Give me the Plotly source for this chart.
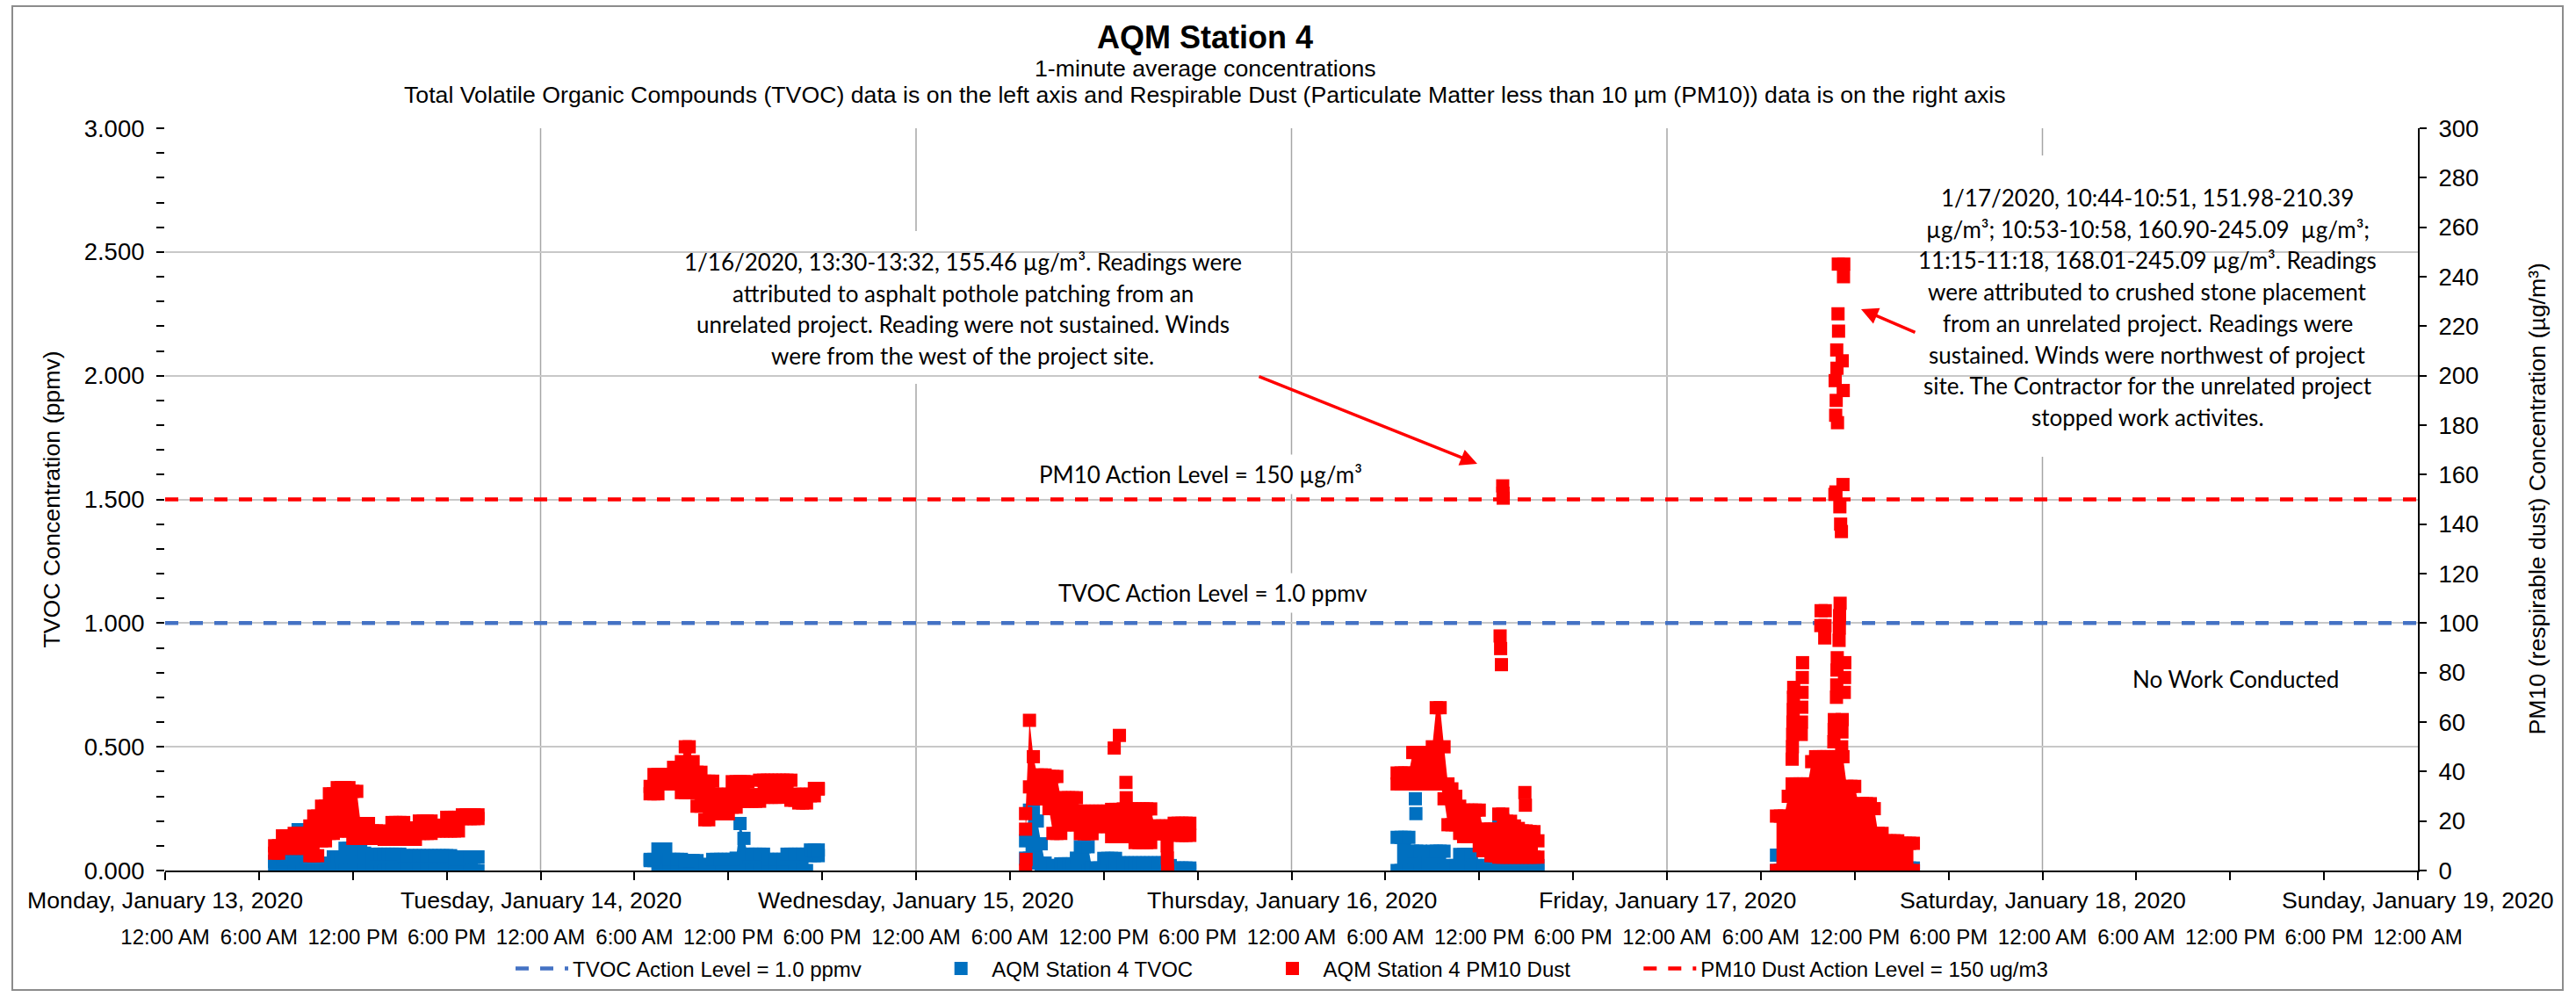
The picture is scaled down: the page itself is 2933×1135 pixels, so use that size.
import pandas as pd
import plotly.graph_objects as go

FONT = "Liberation Sans, Arial, sans-serif"
NOTE_FONT = "Lato, Carlito, Calibri, sans-serif"

# ---------------- axis / label data ----------------
x_start = "2020-01-13 00:00"
x_end = "2020-01-19 00:00"
day_dates = ["2020-01-13", "2020-01-14", "2020-01-15", "2020-01-16",
             "2020-01-17", "2020-01-18", "2020-01-19"]
day_labels = ["Monday, January 13, 2020", "Tuesday, January 14, 2020",
              "Wednesday, January 15, 2020", "Thursday, January 16, 2020",
              "Friday, January 17, 2020", "Saturday, January 18, 2020",
              "Sunday, January 19, 2020"]
time_tick_labels = ["12:00 AM", "6:00 AM", "12:00 PM", "6:00 PM"] * 6 + ["12:00 AM"]

tvoc_action_level = 1.0      # ppmv
pm10_action_level = 150.0    # ug/m3

# Each working day: lowest and highest 1-minute reading in each 15-minute window
# (rows = one hour: :00, :15, :30, :45)

# ---------------- TVOC (ppmv) ----------------
tvoc_mon_start = "2020-01-13 07:00"
tvoc_mon_low = [0.02, 0.02, 0, 0,  0, 0, 0, 0,  0, 0, 0, 0,  0, 0, 0, 0,
                0, 0, 0, 0,  0, 0, 0, 0,  0, 0, 0, 0,  0, 0, 0, 0,
                0, 0, 0, 0,  0, 0, 0, 0,  0, 0, 0, 0,  0, 0, 0, 0,
                0, 0, 0, 0,  0]
tvoc_mon_high = [0.037, 0.037, 0.045, 0.048,
                 0.048, 0.1, 0.165, 0.12,
                 0.059, 0.059, 0.012, 0.012,
                 0.012, 0.012, 0.03, 0.055,
                 0.055, 0.055, 0.09, 0.09,
                 0.09, 0.09, 0.09, 0.07,
                 0.048, 0.048, 0.066, 0.066,
                 0.066, 0.066, 0.066, 0.066,
                 0.066, 0.06, 0.06, 0.06,
                 0.06, 0.06, 0.06, 0.06,
                 0.06, 0.06, 0.06, 0.06,
                 0.06, 0.06, 0.045, 0.045,
                 0.055, 0.055, 0.055, 0.055,
                 0.055]
tvoc_tue_start = "2020-01-14 07:00"
tvoc_tue_low = [0.04, 0.04, 0, 0,  0, 0, 0, 0,  0, 0, 0, 0,  0, 0, 0, 0,
                0, 0, 0, 0,  0, 0, 0, 0,  0, 0, 0, 0,  0, 0, 0, 0,
                0, 0, 0, 0,  0, 0, 0, 0,  0, 0.06, 0.06, 0.06]
tvoc_tue_high = [0.045, 0.045, 0.087, 0.087,
                 0.087, 0.045, 0.045, 0.045,
                 0.045, 0.04, 0.04, 0.04,
                 0.04, 0.024, 0.024, 0.024,
                 0.045, 0.045, 0.045, 0.045,
                 0.045, 0.045, 0.05, 0.19,
                 0.13, 0.066, 0.066, 0.066,
                 0.066, 0.066, 0.045, 0.045,
                 0.045, 0.045, 0.045, 0.066,
                 0.066, 0.066, 0.066, 0.066,
                 0.066, 0.083, 0.083, 0.083]
tvoc_wed_start = "2020-01-15 07:00"
tvoc_wed_low = [0.05, 0.05, 0.05, 0.03,  0, 0, 0, 0,  0, 0, 0, 0,  0, 0, 0, 0,
                0, 0, 0, 0,  0, 0, 0, 0,  0, 0, 0, 0,  0, 0, 0, 0,
                0, 0, 0, 0,  0, 0, 0, 0,  0, 0, 0]
tvoc_wed_high = [0.12, 0.244, 0.244, 0.2,
                 0.108, 0.03, 0.02, 0.02,
                 0.02, 0.027, 0.027, 0.027,
                 0.027, 0.05, 0.096, 0.096,
                 0.096, 0.01, 0.01, 0.01,
                 0.049, 0.049, 0.049, 0.049,
                 0.031, 0.031, 0.031, 0.031,
                 0.031, 0.031, 0.031, 0.031,
                 0.031, 0.031, 0.031, 0.031,
                 0.031, 0.02, 0.01, 0.01,
                 0.01, 0.01, 0.01]
tvoc_thu_start = "2020-01-16 06:45"
tvoc_thu_low = [0,  0, 0, 0, 0,  0, 0, 0, 0,  0, 0, 0, 0,  0, 0, 0, 0,
                0, 0, 0, 0,  0, 0, 0, 0,  0, 0, 0, 0,  0, 0, 0, 0,
                0, 0, 0, 0]
tvoc_thu_high = [0.134,
                 0.134, 0.134, 0.134, 0.078,
                 0.078, 0.078, 0.03, 0.03,
                 0.078, 0.078, 0.078, 0.078,
                 0.02, 0.02, 0.02, 0.065,
                 0.065, 0.065, 0.065, 0.02,
                 0.02, 0.02, 0.02, 0.02,
                 0.02, 0.2, 0.205, 0.18,
                 0.03, 0.03, 0.03, 0.03,
                 0.03, 0.02, 0.02, 0.02]
tvoc_fri_start = "2020-01-17 07:00"
tvoc_fri_low = [0, 0, 0, 0,  0, 0, 0, 0,  0, 0, 0, 0,  0, 0, 0, 0,
                0, 0, 0, 0,  0, 0, 0, 0,  0, 0, 0, 0,  0, 0, 0, 0,
                0, 0, 0, 0]
tvoc_fri_high = [0.062, 0.062, 0.03, 0.03,
                 0.04, 0.04, 0.03, 0.03,
                 0.05, 0.05, 0.05, 0.05,
                 0.06, 0.07, 0.083, 0.083,
                 0.083, 0.07, 0.05, 0.04,
                 0.03, 0.03, 0.03, 0.03,
                 0.03, 0.03, 0.03, 0.03,
                 0.02, 0.02, 0.02, 0.02,
                 0.01, 0.01, 0.01, 0.01]
# isolated TVOC readings
tvoc_extra_times = ["2020-01-16 07:55", "2020-01-16 07:57"]
tvoc_extra_vals = [0.29, 0.23]

# ---------------- PM10 (ug/m3) ----------------
pm10_mon_start = "2020-01-13 07:00"
pm10_mon_low = [7, 7, 9, 9,
                9, 9, 9, 9,
                9, 6, 6, 6,
                12, 12, 15, 15,
                16, 16, 16, 16,
                13, 13, 13, 13,
                13, 13, 13, 13,
                12.6, 12.6, 12.6, 12.6,
                12.6, 12.6, 12.6, 12.6,
                12.6, 15, 15, 15,
                15, 16, 16, 16,
                16, 16, 16, 16,
                21, 21, 21, 21,
                21]
pm10_mon_high = [10, 10, 14, 14,
                 14, 15, 15, 15,
                 15, 18, 22, 22,
                 26, 26, 31, 31,
                 33.5, 33.5, 33.5, 33.5,
                 32, 32, 19, 19,
                 19, 16, 16, 16,
                 14.4, 14.4, 19.4, 19.4,
                 19.4, 19.4, 17.2, 17.2,
                 17.2, 20, 20, 20,
                 20, 18.3, 18.3, 18.3,
                 21.5, 21.5, 21.5, 21.5,
                 22.5, 22.5, 22.5, 22.5,
                 22.5]
pm10_tue_start = "2020-01-14 07:00"
pm10_tue_low = [31, 31, 31, 35,
                35, 35, 35, 35,
                31.5, 31.5, 31.5, 31.5,
                26, 26, 20.5, 20.5,
                25.6, 25.6, 22.9, 22.9,
                22.9, 25.6, 25.6, 28,
                28, 28, 28, 28,
                28, 29.6, 29.6, 29.6,
                29.6, 29.6, 32, 32,
                28.4, 28.4, 27.3, 27.3,
                27.3, 30.2, 30.2, 32.9]
pm10_tue_high = [34, 38.8, 38.8, 38.8,
                 38.8, 38.8, 41.7, 41.7,
                 44, 50, 50, 44,
                 39.7, 39.7, 36.1, 36.1,
                 36.1, 30.8, 30.8, 30.8,
                 30.8, 35.9, 35.9, 35.9,
                 35.9, 35.9, 30.6, 30.6,
                 36.5, 36.5, 36.5, 36.5,
                 36.5, 36.5, 36.5, 36.5,
                 36.5, 30.8, 30.8, 30.8,
                 30.8, 30.8, 33.2, 33.2]
pm10_wed_start = "2020-01-15 07:00"
pm10_wed_low = [16.7, 33.8, 29, 29,
                29, 29, 25, 15,
                15, 15, 18.5, 18.5,
                18.5, 18.5, 14.9, 14.9,
                14.9, 14.9, 17.8, 17.8,
                17.8, 17.8, 13.7, 13.7,
                13.7, 13.7, 13.7, 13.7,
                11.3, 11.3, 11.3, 11.3,
                11.3, 14.9, 14.9, 14.9,
                14.9, 14.9, 14.9, 14.2,
                14.2, 14.2, 14.2]
pm10_wed_high = [23, 60.7, 46, 38.6,
                 38.6, 38.6, 38, 38,
                 38, 29.4, 29.4, 29.4,
                 29.4, 29.4, 24, 24,
                 24, 24, 24, 24,
                 24, 24, 24.7, 24.7,
                 24.7, 24.9, 24.9, 24.9,
                 24.9, 24.9, 24.9, 24.9,
                 24.9, 18, 18, 18,
                 18, 18, 19.1, 19.1,
                 19.1, 19.1, 19.1]
pm10_thu_start = "2020-01-16 06:45"
pm10_thu_low = [35,
                35, 35, 35, 35,
                35, 35, 35, 35,
                35, 35, 35, 29,
                18.5, 18.5, 18.5, 15,
                13.7, 13.7, 13.7, 13.7,
                10, 8, 8, 6,
                6, 5.4, 5.4, 5.4,
                5.4, 5.4, 5.4, 5.4,
                5.4, 5.4, 5.4, 5.4]
pm10_thu_high = [39.4,
                 39.4, 39.4, 39.4, 47.7,
                 47.7, 47.7, 47.7, 45,
                 50, 65.8, 65.8, 50,
                 35, 33, 30, 26,
                 24.4, 24.4, 24.4, 24.4,
                 24.4, 16.7, 16.7, 16.7,
                 16.7, 22.8, 22.8, 19.9,
                 19.9, 18, 17, 16,
                 16, 15.7, 15.7, 12]
pm10_fri_start = "2020-01-17 07:00"
pm10_fri_low = [0, 0, 0, 0,  0, 0, 0, 0,  0, 0, 0, 0,  0, 0, 0, 0,
                0, 0, 0, 0,  0, 0, 0, 0,  0, 0, 0, 0,  0, 0, 0, 0,
                0, 0, 0, 0]
pm10_fri_high = [22, 22, 22, 30,
                 35, 35, 35, 35,
                 35, 44, 46, 46,
                 46, 46, 46, 46,
                 46, 46, 34, 34,
                 34, 27, 27, 27,
                 27, 25, 15, 15,
                 12, 12, 12, 12,
                 11, 11, 11, 11]
# isolated PM10 readings (spikes above the main band)
pm10_extra_times = [
    "2020-01-15 07:00", "2020-01-15 07:02", "2020-01-15 12:40", "2020-01-15 13:00",
    "2020-01-15 13:25", "2020-01-15 13:26", "2020-01-15 16:03", "2020-01-15 16:04",
    "2020-01-15 16:05",
    "2020-01-16 13:20", "2020-01-16 13:22", "2020-01-16 13:25", "2020-01-16 13:30",
    "2020-01-16 13:31", "2020-01-16 13:32", "2020-01-16 14:55", "2020-01-16 14:57",
    # Friday spike columns
    "2020-01-17 08:00", "2020-01-17 08:01", "2020-01-17 08:02", "2020-01-17 08:03",
    "2020-01-17 08:04", "2020-01-17 08:05", "2020-01-17 08:06",
    "2020-01-17 08:35", "2020-01-17 08:36", "2020-01-17 08:37", "2020-01-17 08:38",
    "2020-01-17 08:39", "2020-01-17 08:40",
    "2020-01-17 09:50", "2020-01-17 09:51",
    "2020-01-17 10:05", "2020-01-17 10:06", "2020-01-17 10:07",
    "2020-01-17 10:40", "2020-01-17 10:41", "2020-01-17 10:42",
    "2020-01-17 10:50", "2020-01-17 10:51", "2020-01-17 10:52", "2020-01-17 10:53",
    "2020-01-17 11:00", "2020-01-17 11:01", "2020-01-17 11:02", "2020-01-17 11:04",
    "2020-01-17 11:10", "2020-01-17 11:11", "2020-01-17 11:12",
    "2020-01-17 11:20", "2020-01-17 11:21", "2020-01-17 11:22",
    # Friday 10:44-11:18 excursion
    "2020-01-17 10:44", "2020-01-17 10:45", "2020-01-17 10:47", "2020-01-17 10:48",
    "2020-01-17 10:49", "2020-01-17 10:51", "2020-01-17 10:52", "2020-01-17 10:54",
    "2020-01-17 10:56", "2020-01-17 10:57", "2020-01-17 10:58", "2020-01-17 11:03",
    "2020-01-17 11:06", "2020-01-17 11:09", "2020-01-17 11:12", "2020-01-17 11:15",
    "2020-01-17 11:16", "2020-01-17 11:17", "2020-01-17 11:18"]
pm10_extra_vals = [
    0, 4.5, 49.5, 54.6,
    35.6, 29.4, 10, 5,
    0,
    94.8, 89.7, 83.2, 155.46,
    152.5, 150.5, 31.5, 26.4,
    45, 50, 55, 60,
    65, 70, 74,
    55, 60, 66, 72,
    78, 84,
    99, 105,
    94, 99, 105,
    52, 57, 61,
    70, 75, 81, 86,
    93, 98, 103, 108,
    50, 56, 61,
    72, 78, 84,
    152, 198, 184, 153,
    190, 210.39, 203, 181,
    225, 245.09, 218, 147,
    140, 137, 206, 156,
    194, 240, 245.09]

# ---------------- annotation texts ----------------
note1_lines = ["1/16/2020, 13:30-13:32, 155.46 µg/m³. Readings were",
               "attributed to asphalt pothole patching from an",
               "unrelated project. Reading were not sustained. Winds",
               "were from the west of the project site."]
note2_lines = ["1/17/2020, 10:44-10:51, 151.98-210.39",
               "µg/m³; 10:53-10:58, 160.90-245.09  µg/m³;",
               "11:15-11:18, 168.01-245.09 µg/m³. Readings",
               "were attributed to crushed stone placement",
               "from an unrelated project. Readings were",
               "sustained. Winds were northwest of project",
               "site. The Contractor for the unrelated project",
               "stopped work activites."]
pm10_label = "PM10 Action Level = 150 µg/m³"
tvoc_label = "TVOC Action Level = 1.0 ppmv"
nowork_label = "No Work Conducted"

# ---------------- assemble series ----------------
def build(days, extra_t, extra_v):
    """Return (band polygon x, y) and (marker x, y)."""
    bx, by, mx, my = [], [], [], []
    for start, low, high in days:
        assert len(low) == len(high)
        t = list(pd.date_range(start=start, periods=len(low), freq="15min"))
        bx += t + t[::-1] + [None]
        by += list(high) + list(low)[::-1] + [None]
        mx += t + t
        my += list(low) + list(high)
    assert len(extra_t) == len(extra_v)
    mx += list(pd.to_datetime(extra_t))
    my += list(extra_v)
    return bx, by, mx, my

tv_bx, tv_by, tv_mx, tv_my = build(
    [(tvoc_mon_start, tvoc_mon_low, tvoc_mon_high),
     (tvoc_tue_start, tvoc_tue_low, tvoc_tue_high),
     (tvoc_wed_start, tvoc_wed_low, tvoc_wed_high),
     (tvoc_thu_start, tvoc_thu_low, tvoc_thu_high),
     (tvoc_fri_start, tvoc_fri_low, tvoc_fri_high)],
    tvoc_extra_times, tvoc_extra_vals)
pm_bx, pm_by, pm_mx, pm_my = build(
    [(pm10_mon_start, pm10_mon_low, pm10_mon_high),
     (pm10_tue_start, pm10_tue_low, pm10_tue_high),
     (pm10_wed_start, pm10_wed_low, pm10_wed_high),
     (pm10_thu_start, pm10_thu_low, pm10_thu_high),
     (pm10_fri_start, pm10_fri_low, pm10_fri_high)],
    pm10_extra_times, pm10_extra_vals)

tick_vals = [t.strftime("%Y-%m-%d %H:%M") for t in pd.date_range(x_start, x_end, freq="6h")]

# ---------------- pixel helpers for layout placement ----------------
W, H = 2933, 1135
L, R, T, B = 188, 180, 146, 144
PW, PH = W - L - R, H - T - B
def px(x):
    return (x - L) / PW
def py(y):
    return (T + PH - y) / PH

NB = "\u00a0" * 11
BLUE, RED = "#0070C0", "#FF0000"

fig = go.Figure()
fig.add_trace(go.Scatter(
    x=[x_start, x_end], y=[tvoc_action_level, tvoc_action_level], mode="lines",
    line=dict(color="#4472C4", width=4.5, dash="15px,13px"),
    name="TVOC Action Level = 1.0 ppmv" + NB, yaxis="y", hoverinfo="skip"))
fig.add_trace(go.Scatter(
    x=tv_bx, y=tv_by, mode="lines", fill="toself", fillcolor=BLUE,
    line=dict(width=0, color=BLUE), showlegend=False, yaxis="y", hoverinfo="skip"))
fig.add_trace(go.Scatter(
    x=tv_mx, y=tv_my, mode="markers",
    marker=dict(symbol="square", size=15, color=BLUE, line=dict(width=0)),
    name="AQM Station 4 TVOC" + NB, yaxis="y"))
fig.add_trace(go.Scatter(
    x=pm_bx, y=pm_by, mode="lines", fill="toself", fillcolor=RED,
    line=dict(width=0, color=RED), showlegend=False, yaxis="y2", hoverinfo="skip"))
fig.add_trace(go.Scatter(
    x=pm_mx, y=pm_my, mode="markers",
    marker=dict(symbol="square", size=15, color=RED, line=dict(width=0)),
    name="AQM Station 4 PM10 Dust" + NB, yaxis="y2"))
fig.add_trace(go.Scatter(
    x=[x_start, x_end], y=[pm10_action_level, pm10_action_level], mode="lines",
    line=dict(color=RED, width=4.5, dash="15px,13px"),
    name="PM10 Dust Action Level = 150 ug/m3", yaxis="y2", hoverinfo="skip"))

shapes = []
for d in day_dates[1:-1]:
    shapes.append(dict(type="line", xref="x", yref="paper", x0=d, x1=d, y0=0, y1=1,
                       line=dict(color="#A6A6A6", width=1.5), layer="below"))
shapes.append(dict(type="rect", xref="paper", yref="paper",
                   x0=px(748), x1=px(1446), y0=py(437), y1=py(263),
                   fillcolor="white", line=dict(width=0), layer="between"))
shapes.append(dict(type="rect", xref="paper", yref="paper",
                   x0=px(2151), x1=px(2740), y0=py(520), y1=py(177),
                   fillcolor="white", line=dict(width=0), layer="between"))
shapes.append(dict(type="rect", xref="paper", yref="paper",
                   x0=px(14), x1=px(2918), y0=py(1127), y1=py(7),
                   fillcolor="rgba(0,0,0,0)", line=dict(color="#8C8C8C", width=2),
                   layer="above"))

ann = []
ann.append(dict(text="<b>AQM Station 4</b>", x=px(1372), y=py(42), xref="paper", yref="paper",
                showarrow=False, font=dict(size=36, family=FONT), xanchor="center", yanchor="middle"))
ann.append(dict(text="1-minute average concentrations", x=px(1372), y=py(78), xref="paper",
                yref="paper", showarrow=False, font=dict(size=26.7, family=FONT),
                xanchor="center", yanchor="middle"))
ann.append(dict(text="Total Volatile Organic Compounds (TVOC) data is on the left axis and Respirable "
                     "Dust (Particulate Matter less than 10 µm (PM10)) data is on the right axis",
                x=px(1372), y=py(108), xref="paper", yref="paper", showarrow=False,
                font=dict(size=26.7, family=FONT), xanchor="center", yanchor="middle"))
ann.append(dict(text="TVOC Concentration (ppmv)", x=px(58), y=0.5, xref="paper", yref="paper",
                showarrow=False, textangle=-90, font=dict(size=26.7, family=FONT),
                xanchor="center", yanchor="middle"))
ann.append(dict(text="PM10 (respirable dust) Concentration (µg/m³)", x=px(2888), y=0.5,
                xref="paper", yref="paper", showarrow=False, textangle=-90,
                font=dict(size=26.7, family=FONT), xanchor="center", yanchor="middle"))
for d, lab in zip(day_dates, day_labels):
    ann.append(dict(text=lab, x=d, y=py(1025), xref="x", yref="paper", showarrow=False,
                    font=dict(size=26.7, family=FONT), xanchor="center", yanchor="middle"))
for i, line in enumerate(note1_lines):
    ann.append(dict(text=line, x=px(1096), y=py(298 + i * 35.7), xref="paper", yref="paper",
                    showarrow=False, font=dict(size=26, family=NOTE_FONT),
                    xanchor="center", yanchor="middle"))
for i, line in enumerate(note2_lines):
    ann.append(dict(text=line, x=px(2445), y=py(225 + i * 35.7), xref="paper", yref="paper",
                    showarrow=False, font=dict(size=26, family=NOTE_FONT),
                    xanchor="center", yanchor="middle"))
ann.append(dict(text=pm10_label, x=px(1367), y=py(540), xref="paper", yref="paper",
                showarrow=False, font=dict(size=26, family=NOTE_FONT), bgcolor="white",
                borderpad=6, xanchor="center", yanchor="middle"))
ann.append(dict(text=tvoc_label, x=px(1381), y=py(675), xref="paper", yref="paper",
                showarrow=False, font=dict(size=26, family=NOTE_FONT), bgcolor="white",
                borderpad=6, xanchor="center", yanchor="middle"))
ann.append(dict(text=nowork_label, x=px(2545), y=py(773), xref="paper", yref="paper",
                showarrow=False, font=dict(size=26, family=NOTE_FONT),
                xanchor="center", yanchor="middle"))
ann.append(dict(text="", x=px(1682), y=py(528), xref="paper", yref="paper", showarrow=True,
                ax=-250, ay=-100, arrowhead=2, arrowsize=1.1, arrowwidth=3.5, arrowcolor=RED))
ann.append(dict(text="", x=px(2119), y=py(352), xref="paper", yref="paper", showarrow=True,
                ax=63, ay=27, arrowhead=2, arrowsize=1.1, arrowwidth=3.5, arrowcolor=RED))

fig.update_layout(
    width=W, height=H,
    margin=dict(l=L, r=R, t=T, b=B, autoexpand=False),
    paper_bgcolor="white", plot_bgcolor="white",
    font=dict(family=FONT, size=24, color="black"),
    showlegend=True,
    legend=dict(orientation="h", x=px(582), xanchor="left", y=py(1103), yanchor="middle",
                font=dict(size=24, family=FONT), itemwidth=60, bgcolor="rgba(0,0,0,0)",
                traceorder="normal"),
    xaxis=dict(type="date", range=[x_start, x_end], tickmode="array", tickvals=tick_vals,
               ticktext=time_tick_labels, tickangle=0, ticks="outside", ticklen=9,
               tickwidth=1.5, tickcolor="black", showline=True, linecolor="black",
               linewidth=2, showgrid=False, zeroline=False, tickfont=dict(size=24),
               ticklabelstandoff=44, automargin=False),
    yaxis=dict(range=[0, 3], tick0=0, dtick=0.5, tickformat=".3f", ticks="outside",
               ticklen=9, tickwidth=1.5, tickcolor="black", showline=False, showgrid=True,
               gridcolor="#C8C8C8", gridwidth=1.5, zeroline=False, tickfont=dict(size=27.5),
               minor=dict(dtick=0.1, ticks="outside", ticklen=9, tickwidth=1.5,
                          tickcolor="black", showgrid=False),
               ticklabelstandoff=8, automargin=False),
    yaxis2=dict(overlaying="y", side="right", range=[0, 300], tick0=0, dtick=20,
                ticks="outside", ticklen=8, tickwidth=1.5, tickcolor="black", showline=True,
                linecolor="black", linewidth=2, showgrid=False, zeroline=False,
                tickfont=dict(size=27.5), ticklabelstandoff=8, automargin=False),
    shapes=shapes,
    annotations=ann,
)

fig.write_html("out.html", config={"displayModeBar": False},
               post_script="document.body.style.margin='0px';document.body.style.overflow='hidden';")
